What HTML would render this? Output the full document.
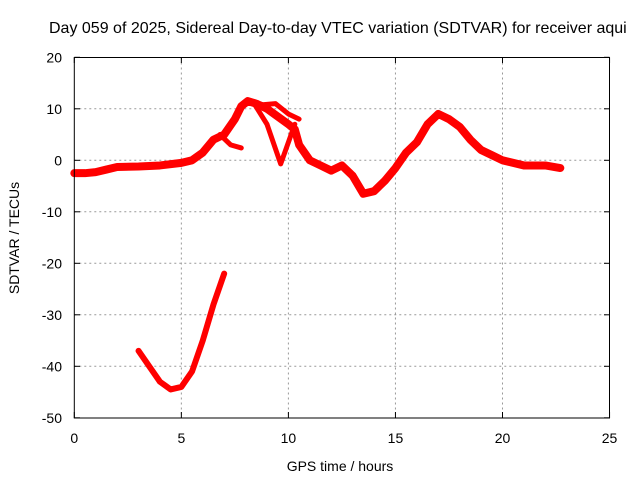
<!DOCTYPE html>
<html><head><meta charset="utf-8"><style>
body{margin:0;background:#fff;}
svg{font-family:"Liberation Sans",sans-serif;font-size:14px;}
</style></head><body>
<svg id="chart" width="640" height="480">
<text x="49" y="33" style="font-size:16px">Day 059 of 2025, Sidereal Day-to-day VTEC variation (SDTVAR) for receiver aqui</text>
<g id="grid"></g>
<g id="ticks"></g>
<g id="series"></g>
<rect x="74.3" y="57.5" width="535.2" height="360.5" fill="none" stroke="#000" stroke-width="1"/>
<text x="340" y="471" text-anchor="middle">GPS time / hours</text>
<text transform="translate(19,238) rotate(-90)" text-anchor="middle">SDTVAR / TECUs</text>
</svg>
<script>
const xTicks=[0,5,10,15,20,25];
const yTicks=[20,10,0,-10,-20,-30,-40,-50];
const mainHours=[0,0.5,1,1.5,2,3,4,5,5.5,6,6.5,7,7.5,7.8,8.1,8.5,9,9.5,10,10.3,10.5,11,11.5,12,12.5,13,13.5,14,14.5,15,15.5,16,16.5,17,17.5,18,18.5,19,19.5,20,21,22,22.7];
const mainValues=[-2.5,-2.5,-2.3,-1.8,-1.3,-1.2,-1,-0.5,0,1.5,4,5,8,10.5,11.5,11,10,8.5,7,6,3,0,-1,-2,-1,-3,-6.5,-6,-4,-1.5,1.5,3.5,7,9,8,6.5,4,2,1,0,-1,-1,-1.5];
const loopHours=[8.4,9,9.64,10.3];
const loopValues=[11,7,-0.7,7];
const upperHours=[8.2,8.8,9.4,10,10.5];
const upperValues=[11.5,10.8,11,9,8];
const branchHours=[6.8,7.3,7.8];
const branchValues=[5,3,2.4];
const lowHours=[3,3.5,4,4.5,5,5.5,6,6.5,7];
const lowValues=[-37,-40,-43,-44.5,-44,-41,-35,-28,-22];
const NS='http://www.w3.org/2000/svg';
const X=h=>74.3+h*21.41;
const Y=v=>160.3-v*5.15;
const grid=document.getElementById('grid'),ticks=document.getElementById('ticks'),ser=document.getElementById('series');
function mk(tag,attrs,parent){const e=document.createElementNS(NS,tag);for(const k in attrs)e.setAttribute(k,attrs[k]);parent.appendChild(e);return e;}
xTicks.forEach(t=>{
 if(t>0&&t<25){const l=mk('line',{x1:X(t),x2:X(t),y1:57.5,y2:418,stroke:'#999','stroke-dasharray':'2,3'},grid);
 
 }
 const tx=mk('text',{x:X(t),y:443,'text-anchor':'middle'},ticks);tx.textContent=t;
 
 
 mk('line',{x1:X(t),x2:X(t),y1:418,y2:412,stroke:'#000'},ticks);
 mk('line',{x1:X(t),x2:X(t),y1:57.5,y2:63,stroke:'#000'},ticks);
});
yTicks.forEach(t=>{
 if(t<20&&t>-50){const l=mk('line',{x1:74.3,x2:609.5,y1:Y(t),y2:Y(t),stroke:'#999','stroke-dasharray':'2,3'},grid);
 
 }
 const tx=mk('text',{x:62,y:Y(t)+5,'text-anchor':'end'},ticks);tx.textContent=t;
 
 
 mk('line',{x1:74.3,x2:80,y1:Y(t),y2:Y(t),stroke:'#000'},ticks);
 mk('line',{x1:604,x2:609.5,y1:Y(t),y2:Y(t),stroke:'#000'},ticks);
});
function trace(hs,vs,name,w){
 const p=mk('polyline',{points:hs.map((h,i)=>X(h)+','+Y(vs[i])).join(' '),fill:'none',stroke:'#f00','stroke-width':w,'stroke-linejoin':'round','stroke-linecap':'round'},ser);
 
 
}
trace(mainHours,mainValues,'main-trace',8);
trace(loopHours,loopValues,'loop-trace',5);
trace(upperHours,upperValues,'upper-trace',5);
trace(branchHours,branchValues,'branch-trace',5);
trace(lowHours,lowValues,'low-trace',6);
</script>
</body></html>
